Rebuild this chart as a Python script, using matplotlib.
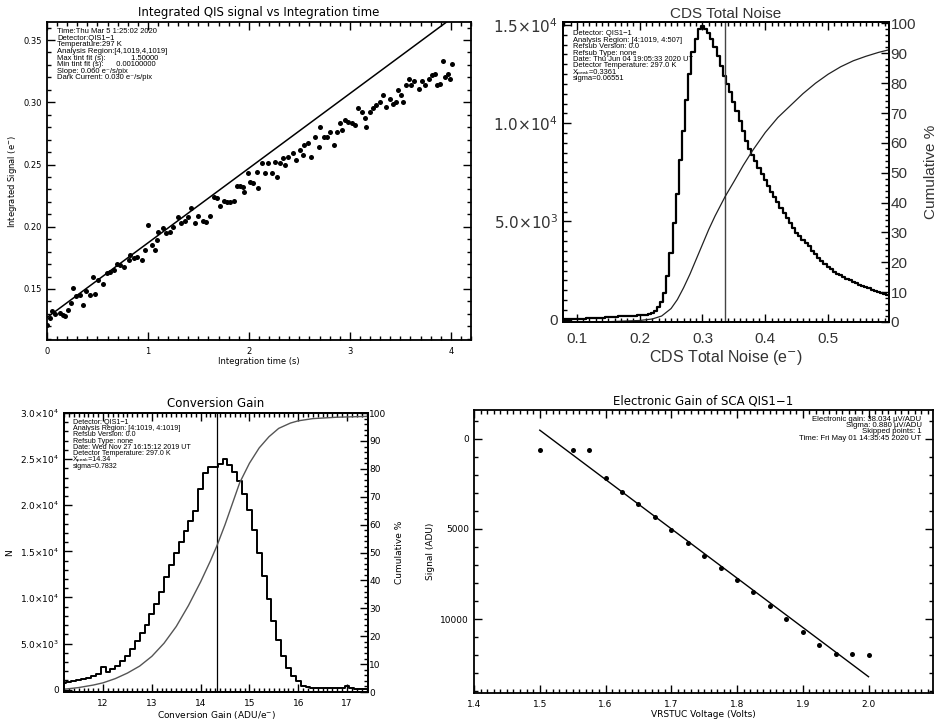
import numpy as np
import matplotlib
matplotlib.use("Agg")
import matplotlib.pyplot as plt
from matplotlib.ticker import MultipleLocator, FuncFormatter, FormatStrFormatter

# ---------------- data ----------------
# Panel 1: integrated QIS signal vs integration time
int_time = [0.00, 0.03, 0.05, 0.08, 0.13, 0.16, 0.18, 0.21, 0.24, 0.26, 0.29, 0.33, 0.36, 0.39,
            0.43, 0.46, 0.48, 0.51, 0.56, 0.59, 0.62, 0.66, 0.69, 0.72, 0.76, 0.81, 0.82, 0.86,
            0.89, 0.94, 0.97, 1.00, 1.04, 1.07, 1.09, 1.10, 1.15, 1.18, 1.22, 1.25, 1.30, 1.33,
            1.37, 1.40, 1.43, 1.47, 1.50, 1.55, 1.58, 1.61, 1.65, 1.68, 1.71, 1.75, 1.78, 1.81,
            1.85, 1.88, 1.91, 1.94, 1.95, 1.99, 2.01, 2.04, 2.08, 2.09, 2.13, 2.16, 2.19, 2.23,
            2.26, 2.28, 2.31, 2.34, 2.36, 2.39, 2.44, 2.47, 2.51, 2.54, 2.55, 2.59, 2.62, 2.65,
            2.69, 2.70, 2.74, 2.77, 2.80, 2.84, 2.87, 2.90, 2.92, 2.95, 2.98, 3.02, 3.05, 3.08,
            3.12, 3.15, 3.16, 3.20, 3.23, 3.26, 3.30, 3.33, 3.36, 3.40, 3.43, 3.46, 3.48, 3.51,
            3.53, 3.56, 3.59, 3.61, 3.64, 3.68, 3.71, 3.74, 3.78, 3.81, 3.84, 3.86, 3.89, 3.92,
            3.94, 3.97, 3.99, 4.01]
int_signal = [0.121, 0.127, 0.132, 0.130, 0.131, 0.129, 0.128, 0.133, 0.139, 0.151, 0.144, 0.145,
              0.137, 0.148, 0.145, 0.160, 0.146, 0.157, 0.154, 0.163, 0.164, 0.165, 0.170, 0.169,
              0.168, 0.173, 0.177, 0.175, 0.176, 0.173, 0.181, 0.201, 0.185, 0.181, 0.189, 0.196,
              0.199, 0.195, 0.196, 0.200, 0.208, 0.203, 0.205, 0.208, 0.215, 0.203, 0.209, 0.205,
              0.204, 0.209, 0.224, 0.223, 0.217, 0.221, 0.220, 0.220, 0.221, 0.233, 0.233, 0.232,
              0.228, 0.243, 0.236, 0.235, 0.244, 0.231, 0.251, 0.243, 0.251, 0.243, 0.252, 0.240,
              0.251, 0.255, 0.250, 0.256, 0.259, 0.254, 0.262, 0.258, 0.266, 0.267, 0.256, 0.272,
              0.264, 0.280, 0.272, 0.272, 0.276, 0.266, 0.276, 0.283, 0.278, 0.286, 0.284, 0.283,
              0.282, 0.295, 0.292, 0.287, 0.280, 0.292, 0.295, 0.298, 0.300, 0.306, 0.296, 0.303,
              0.299, 0.300, 0.310, 0.306, 0.300, 0.314, 0.319, 0.314, 0.317, 0.311, 0.317, 0.314,
              0.319, 0.322, 0.323, 0.314, 0.315, 0.333, 0.320, 0.323, 0.319, 0.331]
fit_slope = 0.060
fit_intercept = 0.127
fit_range = [0.0, 4.2]

# Panel 2: CDS total noise histogram
noise_x = [0.08, 0.09, 0.10, 0.11, 0.12, 0.13, 0.14, 0.15, 0.16, 0.17, 0.18, 0.19, 0.20, 0.205,
           0.21, 0.215, 0.220, 0.225, 0.230, 0.235, 0.240, 0.245, 0.250, 0.255, 0.260, 0.265,
           0.270, 0.275, 0.280, 0.285, 0.290, 0.295, 0.300, 0.305, 0.310, 0.315, 0.320, 0.325,
           0.330, 0.335, 0.340, 0.345, 0.350, 0.355, 0.360, 0.365, 0.370, 0.375, 0.380, 0.385,
           0.390, 0.395, 0.400, 0.405, 0.410, 0.415, 0.420, 0.425, 0.430, 0.435, 0.440, 0.445,
           0.450, 0.455, 0.460, 0.465, 0.470, 0.475, 0.480, 0.485, 0.490, 0.495, 0.500, 0.505,
           0.510, 0.515, 0.520, 0.525, 0.530, 0.535, 0.540, 0.545, 0.550, 0.555, 0.560, 0.565,
           0.570, 0.575, 0.580, 0.585, 0.590, 0.595]
noise_counts = [20, 30, 40, 50, 60, 80, 100, 120, 140, 160, 180, 200, 220, 240,
                260, 280, 330, 450, 650, 900, 1350, 2200, 3400, 4900, 6400, 8100,
                9600, 11200, 12500, 13600, 14300, 14800, 14950, 14800, 14600, 14300, 13900, 13400,
                12900, 12400, 12000, 11600, 11100, 10600, 10100, 9600, 9100, 8700, 8400, 8050,
                7700, 7400, 7100, 6800, 6500, 6250, 6000, 5700, 5450, 5150, 4900, 4650,
                4400, 4250, 4070, 3900, 3730, 3500, 3320, 3150, 3000, 2850, 2680, 2560,
                2420, 2330, 2250, 2180, 2080, 2000, 1930, 1850, 1780, 1720, 1650, 1590,
                1530, 1470, 1410, 1360, 1310, 1270]
noise_cum_x = [0.078, 0.15, 0.20, 0.22, 0.235, 0.25, 0.26, 0.27, 0.28, 0.29, 0.30, 0.31, 0.32,
               0.336, 0.35, 0.365, 0.38, 0.40, 0.42, 0.44, 0.46, 0.48, 0.50, 0.52, 0.54, 0.56,
               0.58, 0.597]
noise_cum_pct = [0.0, 0.1, 0.5, 1.0, 2.0, 4.5, 7.5, 11.5, 16.0, 21.0, 26.0, 31.0, 35.5,
                 42.0, 47.0, 52.5, 57.5, 63.5, 68.5, 72.5, 76.5, 80.0, 83.0, 85.5, 87.5, 89.0,
                 90.3, 91.2]
noise_peak = 0.3361

# Panel 3: conversion gain histogram
gain_x = [11.2, 11.3, 11.4, 11.5, 11.6, 11.7, 11.8, 11.9, 12.0, 12.1, 12.2, 12.3, 12.4, 12.5,
          12.6, 12.7, 12.8, 12.9, 13.0, 13.1, 13.2, 13.3, 13.4, 13.5, 13.6, 13.7, 13.8, 13.9,
          14.0, 14.1, 14.2, 14.3, 14.4, 14.5, 14.6, 14.7, 14.8, 14.9, 15.0, 15.1, 15.2, 15.3,
          15.4, 15.5, 15.6, 15.7, 15.8, 15.9, 16.0, 16.1, 16.2, 16.3, 16.4, 16.5, 16.6, 16.7,
          16.8, 16.9, 17.0, 17.1, 17.2, 17.3, 17.4]
gain_counts = [700, 800, 900, 1050, 1150, 1300, 1450, 1650, 2500, 1900, 2200, 2600, 3100, 3700,
               4400, 5300, 6100, 7000, 8200, 9300, 10600, 12200, 13500, 14800, 16000, 17200,
               18300, 19400, 21800, 23500, 24200, 24200, 24500, 25000, 24400, 23600, 22600,
               21200, 19500, 17300, 14800, 12300, 9800, 7500, 5400, 3700, 2400, 1500, 900,
               450, 300, 230, 200, 180, 170, 160, 150, 160, 350, 150, 120, 100, 90]
gain_cum_x = [11.2, 11.5, 11.8, 12.0, 12.25, 12.5, 12.75, 13.0, 13.25, 13.5, 13.75, 14.0, 14.2,
              14.34, 14.5, 14.65, 14.8, 15.0, 15.2, 15.4, 15.6, 15.84, 16.0, 16.3, 16.8, 17.43]
gain_cum_pct = [1.0, 1.6, 2.5, 3.3, 4.8, 6.8, 9.3, 12.8, 17.5, 23.5, 31.0, 39.5, 47.0,
                52.7, 60.0, 67.5, 75.0, 82.0, 87.5, 91.5, 94.5, 96.4, 97.2, 98.0, 98.5, 98.8]
gain_peak = 14.34

# Panel 4: electronic gain
volt = [1.500, 1.550, 1.575, 1.600, 1.625, 1.650, 1.675, 1.700, 1.725, 1.750, 1.775, 1.800,
        1.825, 1.850, 1.875, 1.900, 1.925, 1.950, 1.975, 2.000]
signal_adu = [611, 611, 611, 2167, 2944, 3611, 4333, 5056, 5778, 6500, 7167, 7833,
              8500, 9278, 10000, 10722, 11444, 11944, 11944, 12000]
fit_volt = [1.5, 2.0]
fit_signal = [-480, 13200]

# ---------------- figure ----------------
fig = plt.figure(figsize=(9.39, 7.26), dpi=100)
SMALL = "DejaVu Sans"
HELV = "Liberation Sans"


def box(ax, fs=6, lw=1.3, right=True, top=True, family=SMALL, color="black"):
    for s in ax.spines.values():
        s.set_linewidth(lw)
    ax.tick_params(which="both", direction="in", top=top, right=right,
                   width=1.0, labelsize=fs, colors="black", labelcolor=color)
    ax.tick_params(which="major", length=6)
    ax.tick_params(which="minor", length=3)
    for lab in ax.get_xticklabels() + ax.get_yticklabels():
        lab.set_family(family)


def sci(v, pos):
    if abs(v) < 1e-9:
        return "0"
    e = int(np.floor(np.log10(abs(v))))
    m = v / 10 ** e
    return r"$%.1f{\times}10^{%d}$" % (m, e)


def textblock(ax, x, y, lines, step_px, fs, ha="left"):
    # y is the axes-fraction position of the first baseline
    for i, line in enumerate(lines):
        ax.annotate(line, xy=(x, y), xycoords="axes fraction",
                    xytext=(0, -i * step_px * 0.72), textcoords="offset points",
                    ha=ha, va="baseline", fontsize=fs, family=[HELV, "DejaVu Sans"])


EM = "\u207b"
XPEAK = "X\u209a\u2091\u2090\u2096"

# ---- Panel 1 ----
ax1 = fig.add_axes([0.050, 0.5317, 0.4516, 0.438])
ax1.scatter(int_time, int_signal, s=13, color="black", zorder=3, linewidths=0)
fx = np.array(fit_range)
ax1.plot(fx, fit_intercept + fit_slope * fx, color="black", lw=1.1)
ax1.set_xlim(0, 4.2)
ax1.set_ylim(0.109, 0.3645)
ax1.xaxis.set_major_locator(MultipleLocator(1))
ax1.xaxis.set_minor_locator(MultipleLocator(0.1))
ax1.yaxis.set_major_locator(MultipleLocator(0.05))
ax1.yaxis.set_minor_locator(MultipleLocator(0.01))
ax1.yaxis.set_major_formatter(FormatStrFormatter("%.2f"))
ax1.xaxis.set_major_formatter(FormatStrFormatter("%d"))
box(ax1, fs=6)
ax1.tick_params(axis="x", pad=5)
ax1.set_title("Integrated QIS signal vs Integration time", fontsize=8.5, family=SMALL, pad=4)
ax1.set_xlabel("Integration time (s)", fontsize=6, family=SMALL, labelpad=1)
ax1.set_ylabel("Integrated Signal (e$^{-}$)", fontsize=6, family=SMALL, labelpad=3)
textblock(ax1, 0.024, 0.965,
          ["Time:Thu Mar 5 1:25:02 2020", "Detector:QIS1\u22121", "Temperature:297 K",
           "Analysis Region:[4,1019,4,1019]", "Max tint fit (s):            1.50000",
           "Min tint fit (s):      0.00100000", "Slope: 0.060 e" + EM + "/s/pix",
           "Dark Current: 0.030 e" + EM + "/s/pix"], 6.6, 5.5)

# ---- Panel 2 ----
ax2 = fig.add_axes([0.5996, 0.5565, 0.3472, 0.4132])
ax2.step(noise_x, noise_counts, where="mid", color="black", lw=1.6)
ax2.axvline(noise_peak, color="#444444", lw=1.0)
ax2.set_xlim(0.078, 0.597)
ax2.set_ylim(-120, 15150)
ax2.xaxis.set_major_locator(MultipleLocator(0.1))
ax2.xaxis.set_minor_locator(MultipleLocator(0.01))
ax2.yaxis.set_major_locator(MultipleLocator(5000))
ax2.yaxis.set_minor_locator(MultipleLocator(500))
ax2.yaxis.set_major_formatter(FuncFormatter(sci))
ax2.xaxis.set_major_formatter(FormatStrFormatter("%.1f"))
box(ax2, fs=11, right=False, family=HELV, color="#333333")
ax2.tick_params(axis="x", pad=7)
ax2.set_title("CDS Total Noise", fontsize=11, family=HELV, color="#333333", pad=3)
ax2.set_xlabel("CDS Total Noise (e$^{-}$)", fontsize=11.5, family=HELV, color="#333333",
               labelpad=2)
ax2b = ax2.twinx()
ax2b.plot(noise_cum_x, noise_cum_pct, color="#222222", lw=0.9)
ax2b.set_ylim(0, 100.5)
ax2b.yaxis.set_major_locator(MultipleLocator(10))
ax2b.yaxis.set_minor_locator(MultipleLocator(2))
box(ax2b, fs=11, family=HELV, color="#333333")
ax2b.tick_params(which="both", left=False, top=False)
ax2b.tick_params(axis="y", pad=1)
ax2b.set_ylabel("Cumulative %", fontsize=11, family=HELV, color="#333333", labelpad=6)
textblock(ax2, 0.03, 0.955,
          ["Detector: QIS1\u22121", "Analysis Region: [4:1019, 4:507]", "Refsub Version: 0.0",
           "Refsub Type: none", "Date: Thu Jun 04 19:05:33 2020 UT",
           "Detector Temperature: 297.0 K", XPEAK + "=0.3361", "sigma=0.06551"], 6.4, 5.4)

# ---- Panel 3 ----
ax3 = fig.add_axes([0.0682, 0.0468, 0.3237, 0.3843])
ax3.step(gain_x, gain_counts, where="mid", color="black", lw=1.4)
ax3.axvline(gain_peak, color="black", lw=0.9)
ax3.set_xlim(11.2, 17.43)
ax3.set_ylim(-250, 30000)
ax3.xaxis.set_major_locator(MultipleLocator(1))
ax3.xaxis.set_minor_locator(MultipleLocator(0.1))
ax3.yaxis.set_major_locator(MultipleLocator(5000))
ax3.yaxis.set_minor_locator(MultipleLocator(1000))
ax3.yaxis.set_major_formatter(FuncFormatter(sci))
ax3.xaxis.set_major_formatter(FormatStrFormatter("%d"))
box(ax3, fs=6.5, right=False)
ax3.tick_params(axis="x", pad=5)
ax3.set_title("Conversion Gain", fontsize=8.5, family=SMALL, pad=4)
ax3.set_xlabel("Conversion Gain (ADU/e$^{-}$)", fontsize=6.5, family=SMALL, labelpad=1)
ax3.set_ylabel("N", fontsize=6.5, family=SMALL, labelpad=4)
ax3b = ax3.twinx()
ax3b.plot(gain_cum_x, gain_cum_pct, color="#555555", lw=1.0)
ax3b.set_ylim(0, 100)
ax3b.yaxis.set_major_locator(MultipleLocator(10))
ax3b.yaxis.set_minor_locator(MultipleLocator(2))
box(ax3b, fs=6.5)
ax3b.tick_params(which="both", left=False, top=False)
ax3b.tick_params(axis="y", pad=1)
ax3b.set_ylabel("Cumulative %", fontsize=6.5, family=SMALL, labelpad=6)
textblock(ax3, 0.03, 0.962,
          ["Detector: QIS1\u22121", "Analysis Region: [4:1019, 4:1019]", "Refsub Version: 0.0",
           "Refsub Type: none", "Date: Wed Nov 27 16:15:12 2019 UT",
           "Detector Temperature: 297.0 K", XPEAK + "=14.34", "sigma=0.7832"], 6.3, 5.1)

# ---- Panel 4 ----
ax4 = fig.add_axes([0.5048, 0.0455, 0.4888, 0.3898])
ax4.scatter(volt, signal_adu, s=13, color="black", linewidths=0, zorder=3)
ax4.plot(fit_volt, fit_signal, color="black", lw=1.0)
ax4.set_xlim(1.4, 2.098)
ax4.set_ylim(14100, -1600)
ax4.xaxis.set_major_locator(MultipleLocator(0.1))
ax4.xaxis.set_minor_locator(MultipleLocator(0.01))
ax4.yaxis.set_major_locator(MultipleLocator(5000))
ax4.yaxis.set_minor_locator(MultipleLocator(1000))
ax4.xaxis.set_major_formatter(FormatStrFormatter("%.1f"))
ax4.yaxis.set_major_formatter(FormatStrFormatter("%d"))
box(ax4, fs=6.5)
ax4.tick_params(axis="x", pad=5)
ax4.set_title("Electronic Gain of SCA QIS1\u22121", fontsize=8.5, family=SMALL, pad=4)
ax4.set_xlabel("VRSTUC Voltage (Volts)", fontsize=6.5, family=SMALL, labelpad=1)
ax4.set_ylabel("Signal (ADU)", fontsize=6.5, family=SMALL, labelpad=4)
textblock(ax4, 0.975, 0.962,
          ["Electronic gain: 38.034 \u00b5V/ADU", "Sigma: 0.880 \u00b5V/ADU",
           "Skipped points: 1", "Time: Fri May 01 14:35:45 2020 UT"], 6.3, 5.6, ha="right")

fig.savefig("out.png", dpi=100)
